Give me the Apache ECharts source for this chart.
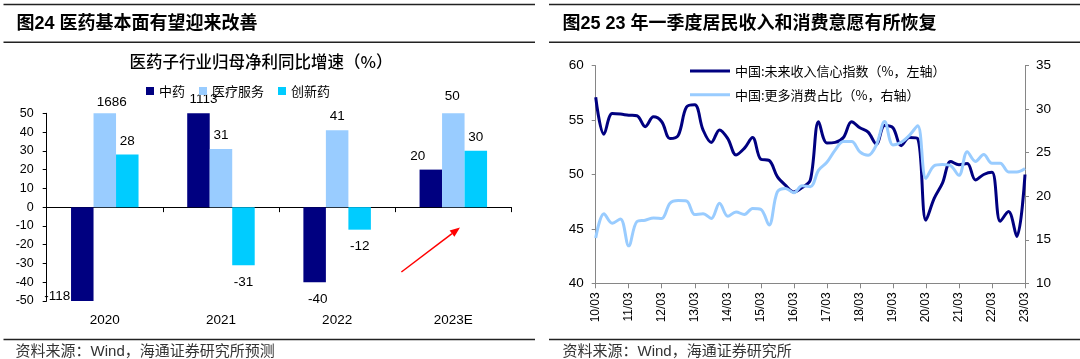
<!DOCTYPE html>
<html><head><meta charset="utf-8">
<script src="https://cdn.jsdelivr.net/npm/echarts@6/dist/echarts.min.js"></script>
<style>html,body{margin:0;padding:0;background:#fff}#c{width:1080px;height:359px}</style>
</head><body><div id="c"></div>
<script>
// ---------- Left chart data ----------
const barCategories = ['2020', '2021', '2022', '2023E'];
const tcmGrowth = [-118, 1113, -40, 20];          // 中药
const medServiceGrowth = [1686, 31, 41, 50];      // 医疗服务
const innovDrugGrowth = [28, -31, -12, 30];       // 创新药
const barYMin = -50, barYMax = 50, barYStep = 10;

// ---------- Right chart data ----------
const quarterLabels = [
 '10/03','10/06','10/09','10/12','11/03','11/06','11/09','11/12','12/03','12/06','12/09','12/12',
 '13/03','13/06','13/09','13/12','14/03','14/06','14/09','14/12','15/03','15/06','15/09','15/12',
 '16/03','16/06','16/09','16/12','17/03','17/06','17/09','17/12','18/03','18/06','18/09','18/12',
 '19/03','19/06','19/09','19/12','20/03','20/06','20/09','20/12','21/03','21/06','21/09','21/12',
 '22/03','22/06','22/09','22/12','23/03'];
const incomeConfidence = [
 57.1, 53.7, 55.6, 55.55, 55.45, 55.4, 54.4, 55.3, 54.85, 53.3, 53.6, 56.2,
 56.4, 54.1, 52.95, 54.1, 53.3, 51.8, 52.4, 53.4, 51.4, 51.3, 49.8, 49.0,
 48.4, 48.8, 49.5, 54.85, 52.9, 52.95, 53.4, 54.85, 54.3, 53.9, 52.8, 54.5,
 54.3, 52.65, 53.4, 53.3, 45.8, 47.8, 49.2, 51.2, 50.9, 51.0, 49.5, 50.0,
 50.2, 45.7, 46.6, 44.3, 50.0];
const moreConsumption = [
 15.2, 18.0, 16.9, 17.4, 14.3, 17.1, 17.25, 17.5, 17.45, 19.2, 19.5, 19.45,
 17.9, 18.0, 17.45, 19.2, 17.7, 18.2, 17.9, 18.6, 18.5, 16.7, 20.5, 20.9,
 20.4, 21.2, 21.1, 23.0, 23.9, 25.3, 26.3, 26.3, 25.1, 24.7, 25.9, 28.6,
 25.9, 26.2, 27.0, 28.1, 22.05, 23.5, 23.65, 23.5, 22.4, 25.1, 24.0, 24.8,
 23.8, 23.8, 22.8, 22.8, 23.2];

// ---------- styles ----------
const NAVY = '#000080', LIGHT = '#99CCFF', CYAN = '#00CCFF';
const FONT = "'Liberation Sans', 'Noto Sans CJK SC', sans-serif";
const CJK = "'Noto Sans CJK SC', 'Liberation Sans', sans-serif";
const AXGRAY = '#868686';

// label tweaks (position only) keyed by series then category index
const labelTweaks = {
  '中药': {0: {offset: [-25, -21]}, 1: {offset: [5, 0]}, 2: {offset: [3, 0]}, 3: {offset: [-13, 0]}},
  '医疗服务': {0: {offset: [7, 3]}, 3: {offset: [-1, -3]}},
  '创新药': {}
};

function barSeries(name, values, color) {
  return {
    type: 'bar', name: name, xAxisIndex: 0, yAxisIndex: 0,
    barWidth: 22.5, barGap: '0%', itemStyle: {color: color},
    data: values.map(function (v, i) {
      const t = labelTweaks[name][i] || {};
      return {
        value: Math.max(barYMin, Math.min(barYMax, v)),
        label: {
          show: true,
          position: v >= 0 ? 'top' : 'bottom',
          distance: v >= 0 ? 7 : 10,
          offset: t.offset || [0, 0],
          formatter: String(v),
          fontSize: 13.5, fontFamily: FONT, color: '#000'
        }
      };
    })
  };
}

const chart = echarts.init(document.getElementById('c'), null, {renderer: 'canvas'});

function txt(text, x, y, font, align, fill) {
  return {type: 'text', silent: true, style: {text: text, x: x, y: y, font: font, fill: fill || '#000', textAlign: align || 'left', textVerticalAlign: 'middle'}};
}
function rule(x1, x2, y, w) {
  return {type: 'rect', silent: true, shape: {x: x1, y: y - w / 2, width: x2 - x1, height: w}, style: {fill: '#222'}};
}

const option = {
  animation: false,
  backgroundColor: '#fff',
  grid: [
    {left: 46.7, right: 1080 - 511.4, top: 113.3, bottom: 359 - 301},
    {left: 595.7, right: 55, top: 65.7, bottom: 359 - 283.3}
  ],
  legend: [
    {data: ['中药', '医疗服务', '创新药'], left: 141, top: 78, orient: 'horizontal',
     icon: 'rect', itemWidth: 8, itemHeight: 8, itemGap: 14,
     textStyle: {fontSize: 13, fontFamily: CJK, color: '#000', lineHeight: 16}},
    {data: ['中国:未来收入信心指数（%，左轴）', '中国:更多消费占比（%，右轴）'], left: 685, top: 58, orient: 'vertical',
     icon: 'rect', itemWidth: 40, itemHeight: 3, itemGap: 7.7,
     textStyle: {fontSize: 13, fontFamily: CJK, color: '#000', lineHeight: 16}}
  ],
  xAxis: [
    {type: 'category', gridIndex: 0, data: barCategories,
     axisLine: {onZero: true, lineStyle: {color: '#000', width: 1}},
     axisTick: {show: true, length: 5, lineStyle: {color: '#000'}},
     axisLabel: {show: false}},
    {type: 'category', gridIndex: 0, data: barCategories, position: 'bottom',
     axisLine: {show: false, onZero: false}, axisTick: {show: false},
     axisLabel: {fontSize: 13.5, fontFamily: FONT, color: '#000', margin: 13}},
    {type: 'category', gridIndex: 1, data: quarterLabels, boundaryGap: false,
     axisLine: {lineStyle: {color: AXGRAY, width: 1}},
     axisTick: {interval: 3, length: 5, lineStyle: {color: AXGRAY}},
     axisLabel: {interval: 3, rotate: 90, fontSize: 12, fontFamily: FONT, color: '#000', margin: 9}}
  ],
  yAxis: [
    {type: 'value', gridIndex: 0, min: barYMin, max: barYMax, interval: barYStep,
     axisLine: {show: true, lineStyle: {color: '#000'}},
     axisTick: {show: true, length: 4, lineStyle: {color: '#000'}},
     splitLine: {show: false},
     axisLabel: {fontSize: 12.5, fontFamily: FONT, color: '#000', margin: 13}},
    {type: 'value', gridIndex: 1, min: 40, max: 60, interval: 5, position: 'left',
     axisLine: {show: true, lineStyle: {color: AXGRAY}},
     axisTick: {show: true, length: 4, lineStyle: {color: AXGRAY}},
     splitLine: {show: false},
     axisLabel: {fontSize: 13.5, fontFamily: FONT, color: '#000', margin: 12}},
    {type: 'value', gridIndex: 1, min: 10, max: 35, interval: 5, position: 'right',
     axisLine: {show: true, lineStyle: {color: AXGRAY}},
     axisTick: {show: true, length: 4, lineStyle: {color: AXGRAY}},
     splitLine: {show: false},
     axisLabel: {fontSize: 13.5, fontFamily: FONT, color: '#000', margin: 11}}
  ],
  series: [
    barSeries('中药', tcmGrowth, NAVY),
    barSeries('医疗服务', medServiceGrowth, LIGHT),
    barSeries('创新药', innovDrugGrowth, CYAN),
    {type: 'line', name: '中国:未来收入信心指数（%，左轴）', xAxisIndex: 2, yAxisIndex: 1,
     data: incomeConfidence, smooth: 0.35, symbol: 'none', color: NAVY,
     lineStyle: {color: NAVY, width: 3}},
    {type: 'line', name: '中国:更多消费占比（%，右轴）', xAxisIndex: 2, yAxisIndex: 2,
     data: moreConsumption, smooth: 0.35, symbol: 'none', color: LIGHT,
     lineStyle: {color: LIGHT, width: 3}}
  ],
  graphic: [
    rule(3.5, 535, 4.5, 1.5), rule(3.5, 535, 42.2, 1.5), rule(3.5, 535, 339.4, 1.5),
    rule(549, 1080, 4.5, 1.5), rule(549, 1080, 42.2, 1.5), rule(549, 1080, 339.4, 1.5),
    txt('图24 医药基本面有望迎来改善', 16.6, 24, 'bold 18px ' + FONT),
    txt('图25 23 年一季度居民收入和消费意愿有所恢复', 562.5, 24, 'bold 18px ' + FONT),
    txt('医药子行业归母净利同比增速（%）', 261, 62, '500 16.5px ' + CJK, 'center'),
    txt('资料来源：Wind，海通证券研究所预测', 15.6, 352, '15px ' + FONT, 'left', '#333'),
    txt('资料来源：Wind，海通证券研究所', 562.5, 352, '15px ' + FONT, 'left', '#333'),
    {type: 'line', silent: true, shape: {x1: 401.4, y1: 272, x2: 452.0, y2: 233.6},
     style: {stroke: '#FF0000', lineWidth: 1.5}},
    {type: 'polygon', silent: true, shape: {points: [[460, 227.6], [454.4, 236.8], [449.6, 230.4]]},
     style: {fill: '#FF0000'}}
  ]
};
chart.setOption(option);
</script>
</body></html>
